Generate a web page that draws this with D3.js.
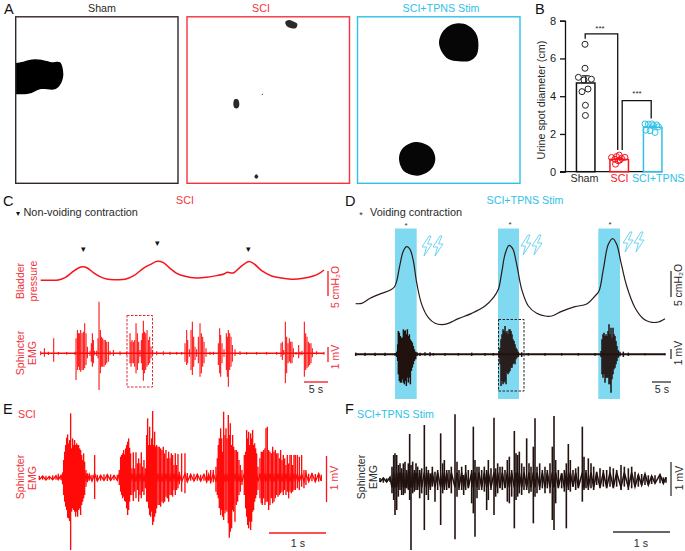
<!DOCTYPE html>
<html><head><meta charset="utf-8"><script src="https://cdn.jsdelivr.net/npm/d3@7"></script>
<style>html,body{margin:0;padding:0;background:#fff}svg{display:block}text{font-family:"Liberation Sans",Arial,sans-serif}</style></head>
<body><svg id="c" width="685" height="551"></svg>
<script>
// ---------- Panel B data ----------
const groups = ["Sham","SCI","SCI+TPNS"];
const barMeans = [4.7,0.65,2.35];
const barErrors = [0.38,0.06,0.07];
const shamPoints = [[-.7,6.75],[-.7,5.48],[-7.3,5.0],[-1.7,4.86],[5.7,4.9],[2.3,4.38],[-3.7,4.24],[-.3,3.52],[-.3,2.98]];
const sciPoints = [[-2.7,.8],[0,.88],[-7.7,.75],[-4.3,.66],[2.3,.71],[5.7,.76],[-3.7,.4],[-1,.58],[.7,.62]];
const tpnsPoints = [[-7.7,2.53],[-4.3,2.52],[-1,2.53],[4,2.48],[-6.7,2.2],[-2.7,2.17],[2.3,2.08],[5.7,2.38],[.7,2.44]];
const yTicksB = [0,2,4,6,8];
// ---------- Panel A: urine spot outlines (frame-sheet units) ----------
const shamSpot = [[40,195],[70,185],[105,178],[140,183],[155,187],[180,187],[190,225],[180,255],[165,268],[120,268],[95,279],[65,283],[40,278]];
const sciSpots = [[[856,66],[866,60],[882,65],[892,72],[888,84],[875,85],[860,78]],
 [[700,311],[704,298],[713,298],[718,311],[714,324],[704,324]],
 [[785,283],[787,281],[789,283],[787,285]],
 [[763,530],[769,523],[775,530],[769,536]]];
const tpnsSpots = [[[1435,127],[1427,98],[1405,77],[1376,70],[1347,78],[1326,98],[1317,127],[1325,155],[1345,177],[1376,184],[1410,182],[1430,165]],
 [[1306,476],[1298,450],[1280,434],[1247,426],[1220,435],[1203,452],[1197,476],[1203,500],[1215,516],[1250,527],[1280,518],[1298,502]]];
// ---------- Bladder pressure traces [sample, level] ----------
const bladderC = [[122,9],[150,9],[175,10],[195,17],[215,32],[235,46],[248,50],[262,46],[280,32],[300,20],[320,13],[345,11],[375,12],[400,22],[430,45],[450,56],[472,66],[490,62],[510,45],[530,30],[555,21],[590,16],[620,18],[650,23],[672,28],[682,33],[700,31],[720,48],[745,65],[760,60],[785,38],[815,22],[850,15],[880,12],[910,15],[940,22],[958,30],[972,40]];
const bladderD = [[32,67],[50,68],[75,83],[110,98],[135,107],[148,117],[155,135],[165,185],[175,225],[185,238],[195,230],[205,195],[215,130],[230,65],[250,25],[270,8],[290,4],[310,8],[340,22],[380,38],[420,60],[445,85],[460,110],[470,160],[480,215],[492,242],[503,232],[515,185],[530,110],[550,60],[575,38],[600,30],[620,30],[650,44],[690,58],[725,66],[750,90],[762,105],[775,170],[790,245],[803,262],[815,245],[828,190],[845,120],[870,55],[895,22],[915,12],[940,12],[960,22]];
// ---------- EMG traces [sample, up amplitude, down amplitude] ----------
const emgC = [[122,6,6],[133,15,10],[145,5,5],[161,45,25],[175,4,4],[200,4,4],[225,5,5],[228,45,80],[232,70,50],[235,60,40],[238,60,50],[242,70,55],[246,60,50],[250,65,50],[254,90,45],[258,60,35],[262,20,15],[270,8,8],[274,30,25],[277,60,40],[280,40,30],[284,8,6],[290,8,8],[294,45,15],[297,155,110],[301,70,60],[304,50,40],[308,45,40],[312,40,40],[316,40,35],[320,35,30],[325,35,25],[330,8,6],[340,10,8],[360,6,6],[380,5,5],[390,60,30],[393,35,40],[396,40,30],[400,35,30],[404,40,40],[408,90,60],[412,60,50],[416,35,30],[420,10,10],[424,40,30],[427,60,50],[430,98,82],[433,65,60],[437,60,50],[441,70,40],[445,40,35],[449,50,30],[453,20,15],[458,10,6],[470,6,6],[490,6,6],[510,5,5],[530,4,4],[545,4,4],[555,30,25],[560,70,35],[563,40,30],[568,12,10],[573,70,50],[577,95,65],[581,50,40],[585,20,20],[590,12,10],[595,50,30],[600,90,70],[604,60,60],[608,50,40],[612,35,30],[618,15,10],[630,5,5],[640,5,5],[655,30,35],[659,75,60],[662,55,70],[666,30,30],[672,12,10],[679,60,50],[682,50,70],[685,70,100],[689,60,50],[693,50,40],[697,25,25],[705,12,8],[720,6,5],[740,4,4],[770,4,4],[800,4,4],[830,4,4],[843,30,10],[847,35,20],[851,10,5],[856,95,90],[860,50,60],[864,30,30],[868,45,25],[872,35,30],[876,35,30],[880,15,12],[888,4,4],[896,25,15],[900,5,5],[906,8,6],[913,95,70],[917,60,50],[921,50,45],[925,35,40],[929,30,35],[933,30,30],[937,15,12],[950,6,4],[972,4,4]];
const emgD = [[32,5,5],[60,5,5],[90,5,5],[120,5,5],[150,4,4],[155,8,8],[158,30,20],[160,70,60],[163,65,80],[166,55,85],[169,50,85],[172,50,75],[175,75,85],[178,70,90],[181,72,80],[184,60,95],[187,75,70],[190,55,85],[193,60,70],[196,45,90],[199,40,50],[202,35,40],[205,25,30],[208,15,20],[212,8,15],[216,6,6],[225,5,5],[240,6,4],[255,6,6],[265,4,4],[300,4,4],[340,4,4],[380,5,5],[420,4,4],[445,4,4],[462,10,10],[465,20,30],[468,45,95],[471,60,80],[474,75,90],[477,70,85],[480,85,80],[483,65,90],[486,70,55],[489,60,60],[492,75,55],[495,75,50],[498,70,40],[501,60,40],[504,45,30],[507,40,25],[510,30,30],[513,20,15],[516,15,10],[520,8,8],[530,6,8],[550,4,4],[600,4,4],[650,4,4],[700,4,4],[750,4,4],[768,10,8],[771,45,60],[774,60,70],[777,65,60],[780,55,85],[783,60,70],[786,55,70],[789,70,70],[792,90,90],[795,60,90],[798,80,115],[801,50,75],[804,80,60],[807,60,45],[810,55,40],[813,40,30],[816,25,20],[820,12,10],[825,8,6],[835,8,8],[850,5,5],[900,3,3],[960,3,3]];
const emgE = [[118,6,6],[128,5,6],[138,6,7],[148,4,6],[158,7,6],[168,6,6],[175,12,6],[183,7,7],[188,16,20],[191,53,52],[194,78,72],[197,98,87],[200,120,97],[203,130,120],[206,103,122],[209,113,130],[212,193,217],[215,88,102],[218,118,92],[221,98,97],[224,113,102],[227,98,117],[230,103,102],[233,98,117],[236,98,97],[239,88,92],[242,83,112],[245,68,82],[248,53,72],[251,73,62],[254,48,52],[258,23,27],[262,13,14],[268,10,9],[276,8,10],[284,68,64],[292,9,10],[302,7,9],[312,10,8],[322,9,10],[332,10,8],[342,7,8],[352,9,8],[358,23,22],[362,63,42],[365,68,52],[368,73,62],[371,83,57],[374,70,70],[377,88,72],[380,98,92],[383,108,112],[386,118,97],[389,90,72],[392,73,52],[396,28,52],[400,76,70],[404,28,42],[408,76,62],[412,43,37],[416,58,72],[420,43,52],[424,76,62],[428,33,42],[432,53,52],[436,28,32],[440,128,72],[443,178,72],[446,98,92],[449,153,112],[452,98,117],[455,118,102],[458,200,142],[461,98,132],[464,138,117],[467,93,107],[470,98,92],[474,93,82],[478,93,82],[482,88,87],[486,83,72],[490,93,77],[494,73,72],[498,83,57],[502,58,62],[506,78,72],[510,58,52],[514,73,52],[518,68,57],[522,38,37],[526,73,52],[530,38,37],[534,71,32],[538,18,20],[545,73,42],[555,73,47],[562,14,12],[572,10,9],[582,12,10],[592,10,9],[602,9,10],[612,10,9],[620,23,14],[626,10,9],[632,23,17],[640,23,14],[648,33,42],[652,58,52],[655,98,62],[658,118,92],[662,148,112],[665,118,97],[668,78,117],[671,198,127],[675,128,107],[678,148,97],[681,118,102],[685,188,137],[688,128,180],[691,163,162],[695,98,152],[698,128,97],[701,93,102],[705,83,132],[709,83,82],[713,78,72],[717,53,52],[721,38,42],[726,23,22],[733,68,52],[737,78,92],[740,143,117],[743,118,142],[746,138,152],[749,98,132],[752,133,157],[755,118,132],[758,143,102],[761,98,97],[764,103,72],[767,88,62],[770,73,52],[774,33,37],[780,58,62],[784,78,77],[787,78,82],[791,83,62],[795,88,82],[798,148,72],[802,153,72],[806,83,97],[810,78,82],[814,73,62],[818,93,77],[822,78,72],[826,83,62],[830,73,52],[834,73,57],[838,58,52],[842,83,47],[846,53,42],[850,68,52],[854,58,37],[858,38,52],[862,68,42],[866,43,62],[870,68,42],[874,68,47],[878,38,42],[882,68,37],[886,68,37],[892,68,32],[898,63,37],[905,68,27],[912,23,32],[918,23,22],[926,12,12],[936,13,11],[946,11,12],[956,14,12],[964,9,10]];
const emgF = [[105,6,6],[115,6,8],[125,5,6],[135,8,6],[141,40,40],[146,75,60],[150,80,105],[155,75,90],[160,45,50],[165,50,30],[170,35,45],[175,50,45],[180,55,40],[185,30,25],[190,50,30],[194,138,60],[198,45,210],[203,55,40],[208,30,35],[213,50,30],[218,40,30],[224,30,55],[230,35,40],[238,165,150],[244,40,45],[250,30,60],[256,20,30],[262,40,20],[270,25,65],[278,30,30],[287,140,135],[293,50,40],[298,60,30],[305,30,30],[312,30,25],[319,40,40],[330,197,178],[336,55,50],[342,30,30],[350,40,30],[356,15,45],[362,45,30],[370,30,25],[380,30,70],[385,160,100],[390,60,170],[396,40,55],[402,40,30],[410,30,30],[418,40,35],[425,30,90],[430,60,60],[438,35,30],[447,187,105],[452,35,50],[458,50,40],[465,40,25],[472,40,30],[480,30,25],[487,60,65],[493,70,70],[500,30,50],[508,147,145],[513,80,60],[518,75,50],[523,85,40],[530,50,45],[537,40,30],[545,125,30],[552,50,40],[558,40,35],[565,100,130],[570,185,50],[576,40,40],[584,50,30],[592,30,25],[600,40,40],[607,30,25],[615,50,40],[622,100,120],[627,192,150],[632,60,70],[640,30,25],[650,20,25],[658,30,35],[664,50,145],[670,108,30],[676,60,35],[684,30,20],[692,35,30],[700,40,25],[712,160,65],[717,70,30],[723,30,25],[730,65,30],[738,50,25],[746,40,30],[755,25,15],[765,35,25],[775,30,20],[785,30,25],[795,40,20],[805,35,25],[815,30,20],[828,45,30],[838,40,20],[850,35,30],[860,40,25],[870,25,20],[880,15,20],[890,18,15],[900,18,15],[910,14,15],[920,12,12],[930,14,10],[945,16,10],[955,8,10],[963,8,8]];

const RED="#f7141c", EMGRED="#ff0a0a", CYAN="#2fc1e8", DARK="#33262a", TRACE="#22120f", BAND="#7fd9f1", LBL="#f0323a";
const svg=d3.select("#c");
function txt(x,y,s,o={}){const t=svg.append("text").attr("x",x).attr("y",y).text(s)
 .attr("font-size",o.size||10.7).attr("fill",o.fill||"#2a2a2a").attr("text-anchor",o.anchor||"middle");
 if(o.rot)t.attr("transform",`rotate(${o.rot} ${x} ${y})`);return t;}
function vtxt(x,cy,s,o={}){return txt(x,cy,s,{...o,rot:-90});}
function seg(x1,y1,x2,y2,c,w=1.3,dash){const l=svg.append("line").attr("x1",x1).attr("y1",y1).attr("x2",x2).attr("y2",y2).attr("stroke",c).attr("stroke-width",w);if(dash)l.attr("stroke-dasharray",dash);return l;}

// ---------- Panel A ----------
const sx=d3.scaleLinear().domain([0,1560]).range([0,520]), sy=d3.scaleLinear().domain([0,570]).range([0,190]);
const frames=[[15.7,178,DARK,"Sham",102],[187,349.5,"#f7323c","SCI",261],[357.5,520,CYAN,"SCI+TPNS Stim",441]];
const blob=d3.line().x(d=>sx(d[0])).y(d=>sy(d[1])).curve(d3.curveCatmullRomClosed.alpha(.5));
const A=svg.append("g");
A.append("clipPath").attr("id","shamClip").append("rect").attr("x",16).attr("y",17).attr("width",162).attr("height",166);
A.append("path").attr("d",blob(shamSpot)).attr("fill","#000").attr("clip-path","url(#shamClip)");
sciSpots.forEach(s=>A.append("path").attr("d",blob(s)).attr("fill","#2a2a2a"));
tpnsSpots.forEach(s=>A.append("path").attr("d",blob(s)).attr("fill","#060606"));
frames.forEach(f=>{svg.append("rect").attr("x",f[0]).attr("y",16.8).attr("width",f[1]-f[0]).attr("height",166.5).attr("fill","none").attr("stroke",f[2]).attr("stroke-width",1.4);
 txt(f[4],12,f[3],{fill:f[2]==DARK?"#2a2a2a":f[2]});});
txt(4,13.5,"A",{size:14.5,anchor:"start",fill:"#111"});

// ---------- Panel B ----------
const yB=d3.scaleLinear().domain([0,8]).range([171.7,20.7]);
const xB=d3.scalePoint().domain(groups).range([585.7,652.7]);
const barW=18.5, bc=["#111",RED,CYAN];
svg.append("g").attr("transform","translate(565,0)").call(d3.axisLeft(yB).tickValues(yTicksB).tickSize(5).tickFormat(d3.format("d")))
 .call(g=>{g.select(".domain").attr("stroke","#111").attr("stroke-width",1.3);g.selectAll(".tick line").attr("stroke","#111").attr("stroke-width",1.3);
 g.selectAll("text").attr("font-size",11).attr("fill","#1a1a1a").attr("font-family","Liberation Sans").attr("dx",-1);});
seg(560,171.7,662.5,171.7,"#111",1.3);
groups.forEach((g,i)=>{const c=xB(g);
 svg.append("rect").attr("x",c-barW/2).attr("y",yB(barMeans[i])).attr("width",barW).attr("height",yB(0)-yB(barMeans[i])).attr("fill","#fff").attr("stroke",bc[i]).attr("stroke-width",1.5);
 seg(c,yB(barMeans[i]+barErrors[i]),c,yB(barMeans[i]),bc[i],1.1);
 seg(c-4,yB(barMeans[i]+barErrors[i]),c+4,yB(barMeans[i]+barErrors[i]),bc[i],1.1);
});
[[shamPoints,"#222",0],[sciPoints,RED,1],[tpnsPoints,CYAN,2]].forEach(([p,c,i])=>{
 svg.append("g").selectAll("circle").data(p).join("circle").attr("cx",d=>xB(groups[i])+d[0]).attr("cy",d=>yB(d[1]))
  .attr("r",3).attr("fill","none").attr("stroke",c).attr("stroke-width",1);});
const brk=d3.line();
svg.append("path").attr("fill","none").attr("stroke","#111").attr("stroke-width",1.3)
 .attr("d",brk([[xB(groups[0])-.5,yB(7.05)],[xB(groups[0])-.5,yB(7.3)],[xB(groups[1])-1.5,yB(7.3)],[xB(groups[1])-1.5,yB(1.15)]]));
svg.append("path").attr("fill","none").attr("stroke","#111").attr("stroke-width",1.3)
 .attr("d",brk([[xB(groups[1])+3,yB(1.15)],[xB(groups[1])+3,yB(3.77)],[xB(groups[2])-1.5,yB(3.77)],[xB(groups[2])-1.5,yB(2.82)]]));
txt(600,31,"***",{size:8});txt(637,96,"***",{size:8});
txt(584.5,182,"Sham");txt(619.5,182,"SCI",{fill:RED});txt(684.5,182,"SCI+TPNS",{fill:CYAN,anchor:"end"});
vtxt(544.5,100,"Urine spot diameter (cm)",{size:10.8});
txt(535,13.5,"B",{size:14.5,anchor:"start",fill:"#111"});

// ---------- Trace helpers ----------
function drawEmg(data,x0,x1,px0,px1,base,color,w,clamp){
 const x=d3.scaleLinear().domain([x0,x1]).range([px0,px1]);
 const y=d3.scaleLinear().domain([-300,300]).range([base+100,base-100]);
 const g=svg.append("g").attr("stroke",color).attr("fill","none");
 g.selectAll("line").data(data).join("line").attr("x1",d=>x(d[0])).attr("x2",d=>x(d[0])).attr("y1",d=>y(d[1])).attr("y2",d=>y(-d[2])).attr("stroke-width",w);
 if(clamp){ // running trace through the samples, alternating up and down
  const line=d3.line().x(d=>x(d[0])).y((d,i)=>y(i%2?Math.min(d[1],clamp):-Math.min(d[2],clamp)));
  g.append("path").attr("d",line(data)).attr("stroke-width",w);
 } else seg(px0,base,px1,base,color,w+.4);
}
function drawBladder(data,x0,x1,px0,px1,base,color,w){
 const x=d3.scaleLinear().domain([x0,x1]).range([px0,px1]);
 const y=d3.scaleLinear().domain([0,300]).range([base,base-100]);
 svg.append("path").attr("fill","none").attr("stroke",color).attr("stroke-width",w)
  .attr("d",d3.line().x(d=>x(d[0])).y(d=>y(d[1])).curve(d3.curveCatmullRom.alpha(.5))(data));
}
function bolt(cx,cy){const s=[[2,-10],[-5,1],[-.5,1],[-3,10],[5,-2],[.5,-2],[4,-10]];
 svg.append("path").attr("fill","none").attr("stroke","#5fd0ef").attr("stroke-width",.9).attr("stroke-linejoin","round")
  .attr("d",d3.line().x(d=>cx+d[0]).y(d=>cy+d[1]).curve(d3.curveLinearClosed)(s));}

// ---------- Panel C ----------
txt(3,205.5,"C",{size:14.5,anchor:"start",fill:"#111"});
txt(185,204,"SCI",{fill:"#f7323c"});
txt(18,216,"▾",{size:8,fill:"#111"});
txt(23.5,216,"Non-voiding contraction",{size:10.9,anchor:"start"});
[[83,250],[157,244],[248,250]].forEach(p=>txt(p[0],p[1]+2,"▾",{size:9,fill:"#111"}));
drawBladder(bladderC,122,972,40.7,324,283.3,RED,1.5);
drawEmg(emgC,122,972,40.7,324,353.3,EMGRED,1.05,0);
vtxt(24,281,"Bladder",{size:10.5,fill:LBL});vtxt(37,281,"pressure",{size:10.5,fill:LBL});
vtxt(24,353,"Sphincter",{size:10.5,fill:LBL});vtxt(36,353,"EMG",{size:10.5,fill:LBL});
seg(328,271,328,296,RED,1.3);vtxt(339,287,"5 cmH₂O",{size:10.4,fill:LBL});
seg(328,347,328,362,RED,1.3);vtxt(339,357,"1 mV",{size:10.4,fill:LBL});
seg(304,382,328,382,RED,1.3);txt(316,393,"5 s");
svg.append("rect").attr("x",127).attr("y",315.5).attr("width",25.5).attr("height",71.5).attr("fill","none").attr("stroke","#e0262c").attr("stroke-width",1).attr("stroke-dasharray","2.5 1.5");

// ---------- Panel D ----------
txt(345,205.5,"D",{size:14.5,anchor:"start",fill:"#111"});
txt(525,204,"SCI+TPNS Stim",{fill:CYAN});
txt(361,218,"*",{size:9,fill:"#333"});
txt(370,216,"Voiding contraction",{size:10.9,anchor:"start"});
[[395,416.7],[498,519],[598.3,620]].forEach(b=>svg.append("rect").attr("x",b[0]).attr("y",228.5).attr("width",b[1]-b[0]).attr("height",170.5).attr("fill",BAND));
[[406,228],[510,227],[610,227]].forEach(p=>txt(p[0],p[1],"*",{size:8,fill:"#333"}));
[[427,246],[438,246],[526,245],[537,245],[628,242],[639,242]].forEach(p=>bolt(p[0],p[1]));
drawBladder(bladderD,32,960,355.7,665,326,"#2b1a18",1.2);
drawEmg(emgD,32,960,355.7,665,354.3,TRACE,1.5,0);
seg(671,271,671,297,"#333",1.3);vtxt(682,285,"5 cmH₂O",{size:10.4});
seg(671,349,671,359,"#333",1.3);vtxt(682,353,"1 mV",{size:10.4});
seg(652,382,671,382,"#333",1.3);txt(662,393,"5 s");
svg.append("rect").attr("x",498.5).attr("y",319.5).attr("width",25.5).attr("height",71.5).attr("fill","none").attr("stroke","#222").attr("stroke-width",1).attr("stroke-dasharray","2.5 1.5");

// ---------- Panel E ----------
txt(3,413.5,"E",{size:14.5,anchor:"start",fill:"#111"});
txt(18,418,"SCI",{fill:"#f7323c",anchor:"start"});
drawEmg(emgE,118,964,39.3,321.3,477.7,EMGRED,1.35,12);
vtxt(24,477,"Sphincter",{size:10.5,fill:LBL});vtxt(36,478,"EMG",{size:10.5,fill:LBL});
seg(326.5,456,326.5,502,RED,1.3);vtxt(338,478,"1 mV",{size:10.4,fill:LBL});
seg(269,533,326,533,RED,1.3);txt(298,547,"1 s");

// ---------- Panel F ----------
txt(345,413.5,"F",{size:14.5,anchor:"start",fill:"#111"});
txt(357,418,"SCI+TPNS Stim",{fill:CYAN,anchor:"start"});
drawEmg(emgF,105,963,380,666,480,TRACE,1.6,22);
vtxt(365,477,"Sphincter",{size:10.5});vtxt(377,477,"EMG",{size:10.5});
seg(671,462,671,496,"#333",1.3);vtxt(683,478,"1 mV",{size:10.4});
seg(613,532,670,532,"#333",1.3);txt(641,547,"1 s");
</script></body></html>
